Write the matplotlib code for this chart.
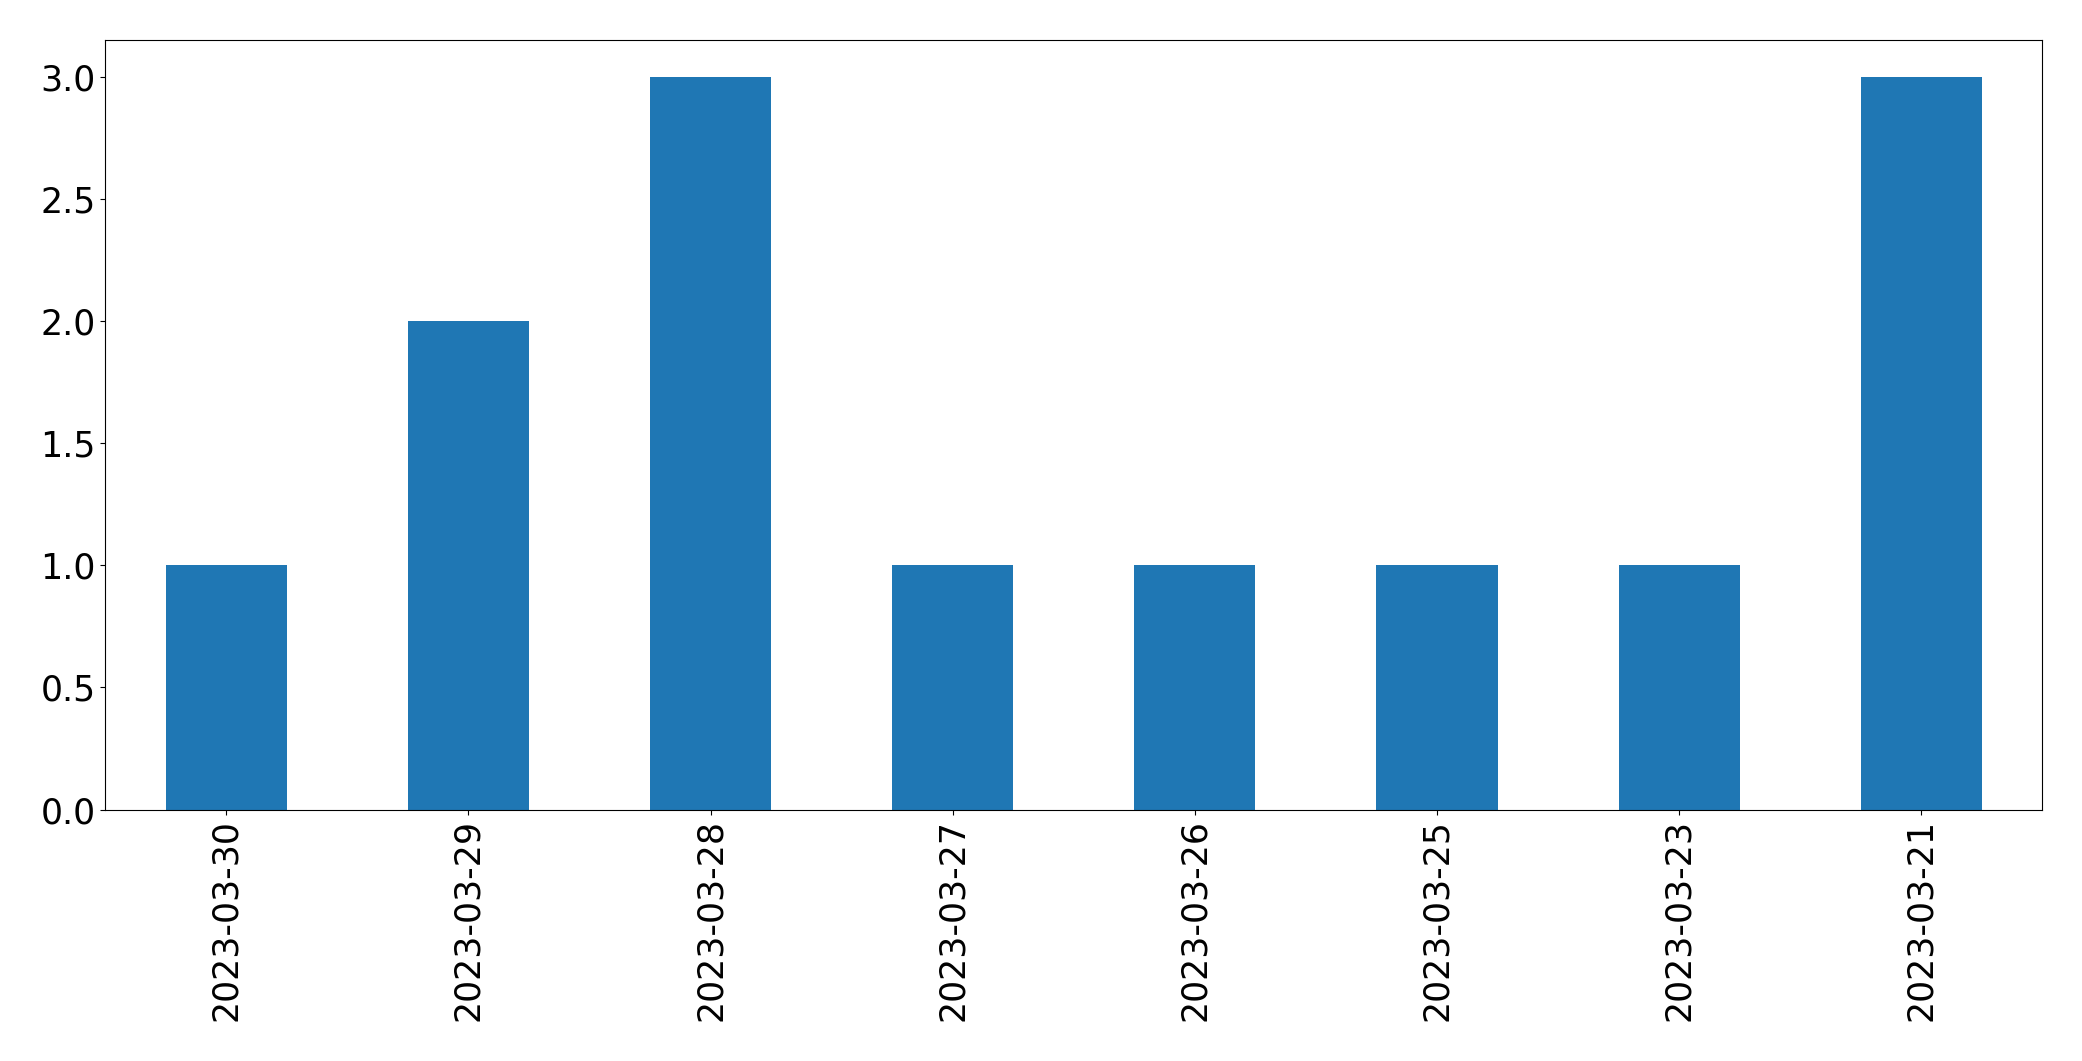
import matplotlib
matplotlib.use("Agg")
import matplotlib.pyplot as plt
import pandas as pd

dates = ["2023-03-30", "2023-03-29", "2023-03-28", "2023-03-27",
         "2023-03-26", "2023-03-25", "2023-03-23", "2023-03-21"]
counts = [1, 2, 3, 1, 1, 1, 1, 3]

plt.rcParams.update({"font.size": 25})

s = pd.Series(counts, index=dates)
fig, ax = plt.subplots(figsize=(20.82, 10.61), dpi=100)
s.plot(kind="bar", ax=ax, color="#1f77b4")
ax.tick_params(labelsize=25)
fig.subplots_adjust(left=0.0505, right=0.981, top=0.962, bottom=0.237)
fig.savefig("out.png", dpi=100)
